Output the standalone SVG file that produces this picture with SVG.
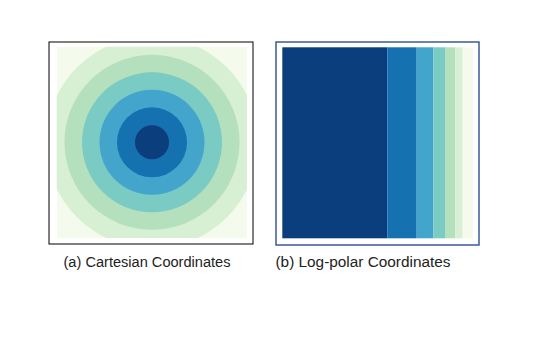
<svg xmlns="http://www.w3.org/2000/svg" width="538" height="363" viewBox="0 0 538 363">
<style>
.cap{font-family:"Liberation Sans","Open Sans",sans-serif;font-size:14px;fill:#222}
</style>
<defs>
<clipPath id="clipA"><rect x="56.7" y="46.7" width="190.3" height="191.3"/></clipPath>
</defs>
<rect width="538" height="363" fill="#ffffff"/>
<g id="panel-a">
<rect x="49" y="42" width="204" height="202" fill="#ffffff" stroke="#000000" stroke-width="1"/>
<g clip-path="url(#clipA)">
<rect x="56.7" y="46.7" width="190.3" height="191.3" fill="#f4fbed"/>
<circle cx="152" cy="142.3" r="106" fill="#d7efd2"/>
<circle cx="152" cy="142.3" r="87.5" fill="#b4e0be"/>
<circle cx="152" cy="142.3" r="70" fill="#79cbc3"/>
<circle cx="152" cy="142.3" r="52.5" fill="#43a4cc"/>
<circle cx="152" cy="142.3" r="35" fill="#1571b0"/>
<circle cx="152" cy="142.3" r="17" fill="#0a3e7c"/>
</g>
</g>
<g id="panel-b">
<rect x="276" y="42" width="203" height="203" fill="#ffffff" stroke="#3d5b96" stroke-width="1.5"/>
<rect x="282.3" y="47.3" width="105" height="191" fill="#0a3e7c"/>
<rect x="387.3" y="47.3" width="29.4" height="191" fill="#1571b0"/>
<rect x="416.7" y="47.3" width="16.6" height="191" fill="#43a4cc"/>
<rect x="433.3" y="47.3" width="11.7" height="191" fill="#79cbc3"/>
<rect x="445" y="47.3" width="10.3" height="191" fill="#b4e0be"/>
<rect x="455.3" y="47.3" width="7.4" height="191" fill="#d7efd2"/>
<rect x="462.7" y="47.3" width="10" height="191" fill="#f4fbed"/>
</g>
<g id="captions">
<text class="cap" x="147" y="267" text-anchor="middle" textLength="167" lengthAdjust="spacingAndGlyphs">(a) Cartesian Coordinates</text>
<text class="cap" x="363" y="267" text-anchor="middle" textLength="175" lengthAdjust="spacingAndGlyphs">(b) Log-polar Coordinates</text>
</g>
</svg>
